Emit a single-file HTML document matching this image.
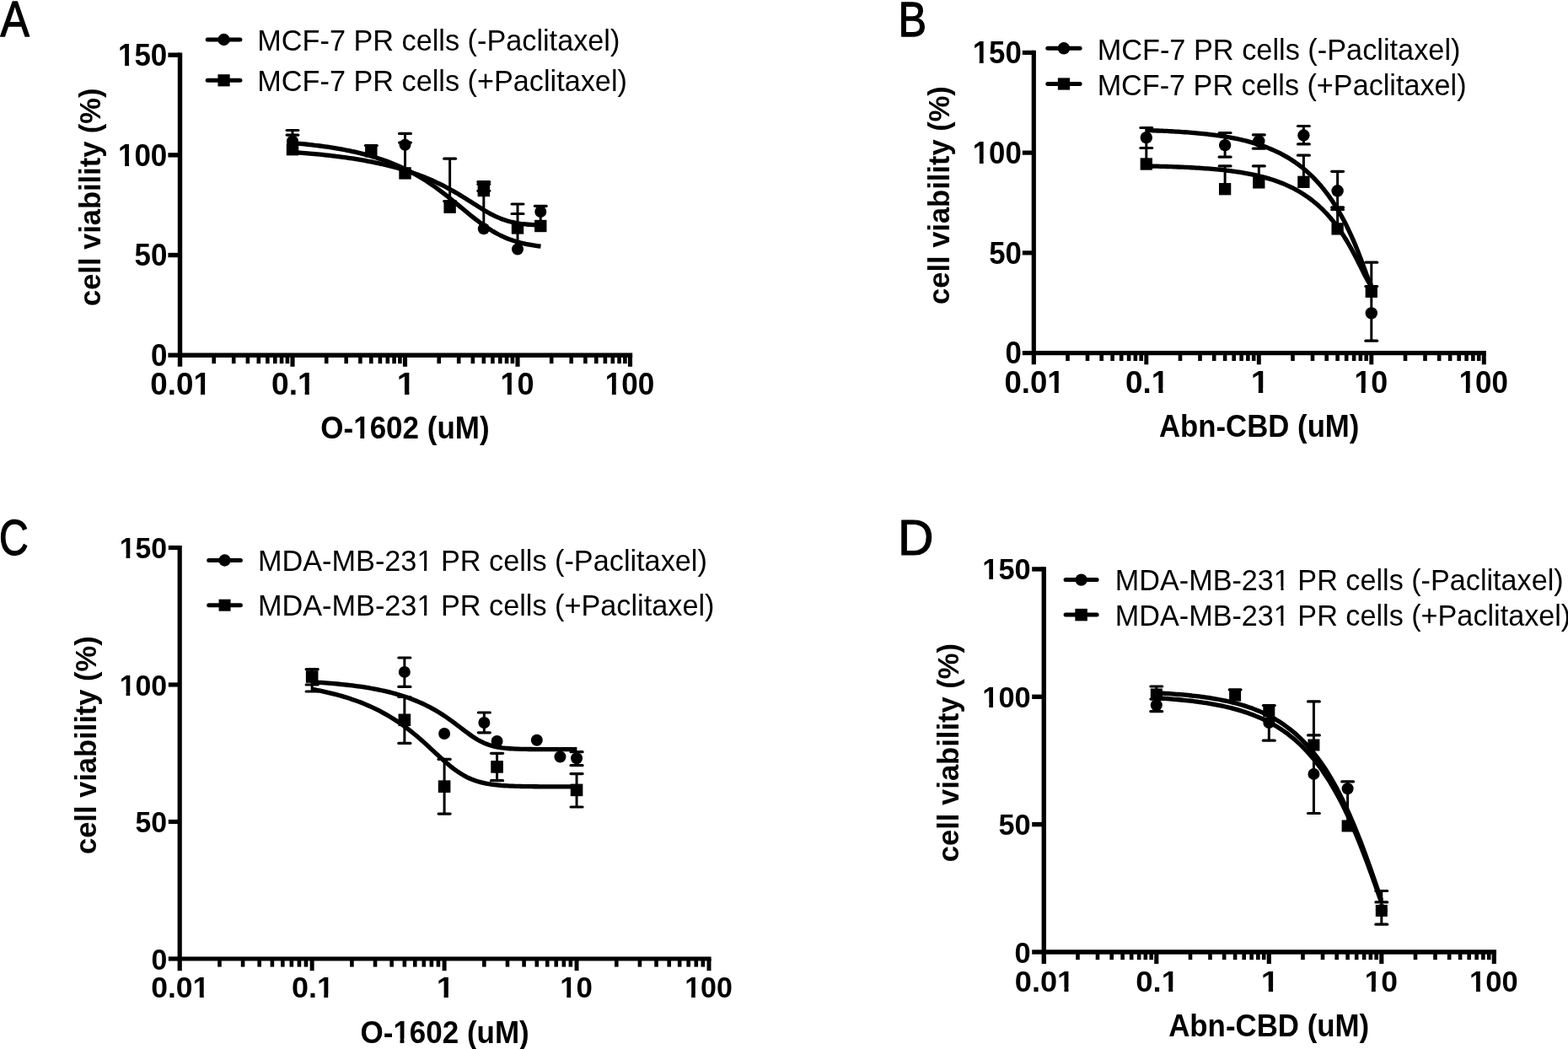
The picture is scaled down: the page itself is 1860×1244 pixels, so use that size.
<!DOCTYPE html>
<html><head><meta charset="utf-8"><title>Cell viability dose-response curves</title>
<style>
html,body{margin:0;padding:0;background:#fff;}
body{width:1860px;height:1244px;overflow:hidden;}
svg{display:block;}
text{font-family:"Liberation Sans",Arial,Helvetica,sans-serif;fill:#000;stroke:none;}
line,path{stroke:#000;}
circle,rect{stroke:none;}
</style></head><body>
<svg width="1860" height="1244" viewBox="0 0 1860 1244">
<rect width="1860" height="1244" style="fill:#fff"/>
<defs><clipPath id="c0"><path clip-rule="evenodd" d="M-2000,-2000H8000V2000H-2000ZM1.46,-4.91H8.46V5.46H1.46ZM13.49,-4.91H20.02V5.46H13.49Z"/></clipPath><clipPath id="c1"><path clip-rule="evenodd" d="M-2000,-2000H8000V2000H-2000ZM1.46,-4.91H8.46V5.46H1.46ZM13.49,-4.91H20.02V5.46H13.49Z"/></clipPath><clipPath id="c2"><path clip-rule="evenodd" d="M-2000,-2000H8000V2000H-2000ZM52.07,-4.91H59.07V5.46H52.07ZM64.10,-4.91H70.63V5.46H64.10Z"/></clipPath><clipPath id="c3"><path clip-rule="evenodd" d="M-2000,-2000H8000V2000H-2000ZM31.82,-4.91H38.83V5.46H31.82ZM43.85,-4.91H50.38V5.46H43.85Z"/></clipPath><clipPath id="c4"><path clip-rule="evenodd" d="M-2000,-2000H8000V2000H-2000ZM1.46,-4.91H8.46V5.46H1.46ZM13.49,-4.91H20.02V5.46H13.49Z"/></clipPath><clipPath id="c5"><path clip-rule="evenodd" d="M-2000,-2000H8000V2000H-2000ZM1.46,-4.91H8.46V5.46H1.46ZM13.49,-4.91H20.02V5.46H13.49Z"/></clipPath><clipPath id="c6"><path clip-rule="evenodd" d="M-2000,-2000H8000V2000H-2000ZM1.46,-4.91H8.46V5.46H1.46ZM13.49,-4.91H20.02V5.46H13.49Z"/></clipPath><clipPath id="c7"><path clip-rule="evenodd" d="M-2000,-2000H8000V2000H-2000ZM41.77,-4.90H48.76V5.44H41.77ZM53.77,-4.90H60.29V5.44H53.77Z"/></clipPath><clipPath id="c8"><path clip-rule="evenodd" d="M-2000,-2000H8000V2000H-2000ZM1.45,-4.89H8.42V5.43H1.45ZM13.41,-4.89H19.91V5.43H13.41Z"/></clipPath><clipPath id="c9"><path clip-rule="evenodd" d="M-2000,-2000H8000V2000H-2000ZM1.45,-4.89H8.42V5.43H1.45ZM13.41,-4.89H19.91V5.43H13.41Z"/></clipPath><clipPath id="c10"><path clip-rule="evenodd" d="M-2000,-2000H8000V2000H-2000ZM51.78,-4.89H58.74V5.43H51.78ZM63.74,-4.89H70.24V5.43H63.74Z"/></clipPath><clipPath id="c11"><path clip-rule="evenodd" d="M-2000,-2000H8000V2000H-2000ZM31.64,-4.89H38.61V5.43H31.64ZM43.60,-4.89H50.10V5.43H43.60Z"/></clipPath><clipPath id="c12"><path clip-rule="evenodd" d="M-2000,-2000H8000V2000H-2000ZM1.45,-4.89H8.42V5.43H1.45ZM13.41,-4.89H19.91V5.43H13.41Z"/></clipPath><clipPath id="c13"><path clip-rule="evenodd" d="M-2000,-2000H8000V2000H-2000ZM1.45,-4.89H8.42V5.43H1.45ZM13.41,-4.89H19.91V5.43H13.41Z"/></clipPath><clipPath id="c14"><path clip-rule="evenodd" d="M-2000,-2000H8000V2000H-2000ZM1.45,-4.89H8.42V5.43H1.45ZM13.41,-4.89H19.91V5.43H13.41Z"/></clipPath><clipPath id="c15"><path clip-rule="evenodd" d="M-2000,-2000H8000V2000H-2000ZM1.41,-4.75H8.18V5.28H1.41ZM13.04,-4.75H19.36V5.28H13.04Z"/></clipPath><clipPath id="c16"><path clip-rule="evenodd" d="M-2000,-2000H8000V2000H-2000ZM1.41,-4.75H8.18V5.28H1.41ZM13.04,-4.75H19.36V5.28H13.04Z"/></clipPath><clipPath id="c17"><path clip-rule="evenodd" d="M-2000,-2000H8000V2000H-2000ZM50.35,-4.75H57.12V5.28H50.35ZM61.98,-4.75H68.30V5.28H61.98Z"/></clipPath><clipPath id="c18"><path clip-rule="evenodd" d="M-2000,-2000H8000V2000H-2000ZM30.77,-4.75H37.54V5.28H30.77ZM42.40,-4.75H48.72V5.28H42.40Z"/></clipPath><clipPath id="c19"><path clip-rule="evenodd" d="M-2000,-2000H8000V2000H-2000ZM1.41,-4.75H8.18V5.28H1.41ZM13.04,-4.75H19.36V5.28H13.04Z"/></clipPath><clipPath id="c20"><path clip-rule="evenodd" d="M-2000,-2000H8000V2000H-2000ZM1.41,-4.75H8.18V5.28H1.41ZM13.04,-4.75H19.36V5.28H13.04Z"/></clipPath><clipPath id="c21"><path clip-rule="evenodd" d="M-2000,-2000H8000V2000H-2000ZM1.41,-4.75H8.18V5.28H1.41ZM13.04,-4.75H19.36V5.28H13.04Z"/></clipPath><clipPath id="c22"><path clip-rule="evenodd" d="M-2000,-2000H8000V2000H-2000ZM41.77,-4.90H48.76V5.44H41.77ZM53.77,-4.90H60.29V5.44H53.77Z"/></clipPath><clipPath id="c23"><path clip-rule="evenodd" d="M-2000,-2000H8000V2000H-2000ZM195.91,-3.71H202.99V5.29H195.91ZM206.13,-3.71H213.56V5.29H206.13Z"/></clipPath><clipPath id="c24"><path clip-rule="evenodd" d="M-2000,-2000H8000V2000H-2000ZM195.91,-3.71H202.99V5.29H195.91ZM206.13,-3.71H213.56V5.29H206.13Z"/></clipPath><clipPath id="c25"><path clip-rule="evenodd" d="M-2000,-2000H8000V2000H-2000ZM1.43,-4.83H8.32V5.37H1.43ZM13.26,-4.83H19.69V5.37H13.26Z"/></clipPath><clipPath id="c26"><path clip-rule="evenodd" d="M-2000,-2000H8000V2000H-2000ZM1.43,-4.83H8.32V5.37H1.43ZM13.26,-4.83H19.69V5.37H13.26Z"/></clipPath><clipPath id="c27"><path clip-rule="evenodd" d="M-2000,-2000H8000V2000H-2000ZM51.19,-4.83H58.09V5.37H51.19ZM63.03,-4.83H69.45V5.37H63.03Z"/></clipPath><clipPath id="c28"><path clip-rule="evenodd" d="M-2000,-2000H8000V2000H-2000ZM31.29,-4.83H38.18V5.37H31.29ZM43.12,-4.83H49.54V5.37H43.12Z"/></clipPath><clipPath id="c29"><path clip-rule="evenodd" d="M-2000,-2000H8000V2000H-2000ZM1.43,-4.83H8.32V5.37H1.43ZM13.26,-4.83H19.69V5.37H13.26Z"/></clipPath><clipPath id="c30"><path clip-rule="evenodd" d="M-2000,-2000H8000V2000H-2000ZM1.43,-4.83H8.32V5.37H1.43ZM13.26,-4.83H19.69V5.37H13.26Z"/></clipPath><clipPath id="c31"><path clip-rule="evenodd" d="M-2000,-2000H8000V2000H-2000ZM1.43,-4.83H8.32V5.37H1.43ZM13.26,-4.83H19.69V5.37H13.26Z"/></clipPath><clipPath id="c32"><path clip-rule="evenodd" d="M-2000,-2000H8000V2000H-2000ZM197.04,-3.73H204.16V5.33H197.04ZM207.32,-3.73H214.79V5.33H207.32Z"/></clipPath><clipPath id="c33"><path clip-rule="evenodd" d="M-2000,-2000H8000V2000H-2000ZM197.04,-3.73H204.16V5.33H197.04ZM207.32,-3.73H214.79V5.33H207.32Z"/></clipPath></defs>
<g fill="#000">
<g transform="translate(0.44,43.15) scale(0.8744,1)"><text font-size="58.9" font-weight="normal" style="stroke:#000;stroke-width:1.258px;stroke-linejoin:round">A</text></g>
<line x1="213.50" y1="62.50" x2="213.50" y2="434.80" stroke-width="5.4" stroke-linecap="butt"/>
<line x1="199.40" y1="421.20" x2="213.50" y2="421.20" stroke-width="5.4" stroke-linecap="butt"/>
<g transform="translate(178.90,434.10) scale(0.9600,1)"><text font-size="36.4" font-weight="bold">0</text></g>
<line x1="199.40" y1="302.53" x2="213.50" y2="302.53" stroke-width="5.4" stroke-linecap="butt"/>
<g transform="translate(159.46,315.43) scale(0.9600,1)"><text font-size="36.4" font-weight="bold">50</text></g>
<line x1="199.40" y1="183.87" x2="213.50" y2="183.87" stroke-width="5.4" stroke-linecap="butt"/>
<g transform="translate(140.02,196.77) scale(0.9600,1)"><text font-size="36.4" font-weight="bold" clip-path="url(#c0)">100</text></g>
<line x1="199.40" y1="65.20" x2="213.50" y2="65.20" stroke-width="5.4" stroke-linecap="butt"/>
<g transform="translate(140.02,78.10) scale(0.9600,1)"><text font-size="36.4" font-weight="bold" clip-path="url(#c1)">150</text></g>
<line x1="213.50" y1="421.20" x2="750.20" y2="421.20" stroke-width="5.4" stroke-linecap="butt"/>
<g transform="translate(178.36,468.00) scale(1.0100,1)"><text font-size="36.4" font-weight="bold" clip-path="url(#c2)">0.01</text></g>
<line x1="253.69" y1="421.20" x2="253.69" y2="431.20" stroke-width="4.6" stroke-linecap="butt"/>
<line x1="277.20" y1="421.20" x2="277.20" y2="431.20" stroke-width="4.6" stroke-linecap="butt"/>
<line x1="293.88" y1="421.20" x2="293.88" y2="431.20" stroke-width="4.6" stroke-linecap="butt"/>
<line x1="306.81" y1="421.20" x2="306.81" y2="431.20" stroke-width="4.6" stroke-linecap="butt"/>
<line x1="317.38" y1="421.20" x2="317.38" y2="431.20" stroke-width="4.6" stroke-linecap="butt"/>
<line x1="326.32" y1="421.20" x2="326.32" y2="431.20" stroke-width="4.6" stroke-linecap="butt"/>
<line x1="334.06" y1="421.20" x2="334.06" y2="431.20" stroke-width="4.6" stroke-linecap="butt"/>
<line x1="340.89" y1="421.20" x2="340.89" y2="431.20" stroke-width="4.6" stroke-linecap="butt"/>
<line x1="347.00" y1="421.20" x2="347.00" y2="434.80" stroke-width="5.13" stroke-linecap="butt"/>
<g transform="translate(322.06,468.00) scale(1.0200,1)"><text font-size="36.4" font-weight="bold" clip-path="url(#c3)">0.1</text></g>
<line x1="387.19" y1="421.20" x2="387.19" y2="431.20" stroke-width="4.6" stroke-linecap="butt"/>
<line x1="410.70" y1="421.20" x2="410.70" y2="431.20" stroke-width="4.6" stroke-linecap="butt"/>
<line x1="427.38" y1="421.20" x2="427.38" y2="431.20" stroke-width="4.6" stroke-linecap="butt"/>
<line x1="440.31" y1="421.20" x2="440.31" y2="431.20" stroke-width="4.6" stroke-linecap="butt"/>
<line x1="450.88" y1="421.20" x2="450.88" y2="431.20" stroke-width="4.6" stroke-linecap="butt"/>
<line x1="459.82" y1="421.20" x2="459.82" y2="431.20" stroke-width="4.6" stroke-linecap="butt"/>
<line x1="467.56" y1="421.20" x2="467.56" y2="431.20" stroke-width="4.6" stroke-linecap="butt"/>
<line x1="474.39" y1="421.20" x2="474.39" y2="431.20" stroke-width="4.6" stroke-linecap="butt"/>
<line x1="480.50" y1="421.20" x2="480.50" y2="434.80" stroke-width="5.13" stroke-linecap="butt"/>
<g transform="translate(470.86,468.00) scale(1.0800,1)"><text font-size="36.4" font-weight="bold" clip-path="url(#c4)">1</text></g>
<line x1="520.69" y1="421.20" x2="520.69" y2="431.20" stroke-width="4.6" stroke-linecap="butt"/>
<line x1="544.20" y1="421.20" x2="544.20" y2="431.20" stroke-width="4.6" stroke-linecap="butt"/>
<line x1="560.88" y1="421.20" x2="560.88" y2="431.20" stroke-width="4.6" stroke-linecap="butt"/>
<line x1="573.81" y1="421.20" x2="573.81" y2="431.20" stroke-width="4.6" stroke-linecap="butt"/>
<line x1="584.38" y1="421.20" x2="584.38" y2="431.20" stroke-width="4.6" stroke-linecap="butt"/>
<line x1="593.32" y1="421.20" x2="593.32" y2="431.20" stroke-width="4.6" stroke-linecap="butt"/>
<line x1="601.06" y1="421.20" x2="601.06" y2="431.20" stroke-width="4.6" stroke-linecap="butt"/>
<line x1="607.89" y1="421.20" x2="607.89" y2="431.20" stroke-width="4.6" stroke-linecap="butt"/>
<line x1="614.00" y1="421.20" x2="614.00" y2="434.80" stroke-width="5.13" stroke-linecap="butt"/>
<g transform="translate(593.46,468.00) scale(0.9900,1)"><text font-size="36.4" font-weight="bold" clip-path="url(#c5)">10</text></g>
<line x1="654.19" y1="421.20" x2="654.19" y2="431.20" stroke-width="4.6" stroke-linecap="butt"/>
<line x1="677.70" y1="421.20" x2="677.70" y2="431.20" stroke-width="4.6" stroke-linecap="butt"/>
<line x1="694.38" y1="421.20" x2="694.38" y2="431.20" stroke-width="4.6" stroke-linecap="butt"/>
<line x1="707.31" y1="421.20" x2="707.31" y2="431.20" stroke-width="4.6" stroke-linecap="butt"/>
<line x1="717.88" y1="421.20" x2="717.88" y2="431.20" stroke-width="4.6" stroke-linecap="butt"/>
<line x1="726.82" y1="421.20" x2="726.82" y2="431.20" stroke-width="4.6" stroke-linecap="butt"/>
<line x1="734.56" y1="421.20" x2="734.56" y2="431.20" stroke-width="4.6" stroke-linecap="butt"/>
<line x1="741.39" y1="421.20" x2="741.39" y2="431.20" stroke-width="4.6" stroke-linecap="butt"/>
<line x1="747.50" y1="421.20" x2="747.50" y2="434.80" stroke-width="5.13" stroke-linecap="butt"/>
<g transform="translate(717.74,468.00) scale(0.9640,1)"><text font-size="36.4" font-weight="bold" clip-path="url(#c6)">100</text></g>
<g transform="translate(380.35,520.10) scale(0.9641,1)"><text font-size="36.3" font-weight="bold" clip-path="url(#c7)">O-1602 (uM)</text></g>
<text transform="translate(119.40,362.97) rotate(-90) scale(0.9956,1)" font-size="34.6" font-weight="bold">cell viability (%)</text>
<line x1="246.20" y1="47.00" x2="284.90" y2="47.00" stroke-width="5" stroke-linecap="round"/>
<circle cx="265.55" cy="47.00" r="7.20"/>
<g transform="translate(305.34,59.80) scale(0.9541,1)"><text font-size="35.9" font-weight="normal">MCF-7 PR cells (-Paclitaxel)</text></g>
<line x1="246.20" y1="95.30" x2="284.90" y2="95.30" stroke-width="5" stroke-linecap="round"/>
<rect x="258.45" y="88.20" width="14.20" height="14.20"/>
<g transform="translate(305.34,107.60) scale(0.9539,1)"><text font-size="35.9" font-weight="normal">MCF-7 PR cells (+Paclitaxel)</text></g>
<path d="M346.50,169.58 L349.48,169.83 L352.46,170.09 L355.44,170.37 L358.42,170.65 L361.40,170.95 L364.38,171.26 L367.36,171.58 L370.34,171.92 L373.32,172.26 L376.30,172.63 L379.28,173.00 L382.26,173.40 L385.24,173.81 L388.22,174.23 L391.20,174.67 L394.18,175.13 L397.16,175.61 L400.14,176.11 L403.12,176.63 L406.10,177.17 L409.08,177.73 L412.06,178.31 L415.04,178.92 L418.02,179.55 L420.99,180.21 L423.97,180.89 L426.95,181.61 L429.93,182.35 L432.91,183.12 L435.89,183.92 L438.87,184.75 L441.85,185.62 L444.83,186.52 L447.81,187.45 L450.79,188.43 L453.77,189.44 L456.75,190.49 L459.73,191.59 L462.71,192.72 L465.69,193.90 L468.67,195.13 L471.65,196.40 L474.63,197.72 L477.61,199.09 L480.59,200.51 L483.57,201.99 L486.55,203.51 L489.53,205.10 L492.51,206.74 L495.49,208.43 L498.47,210.18 L501.45,212.00 L504.43,213.86 L507.41,215.79 L510.39,217.78 L513.37,219.82 L516.35,221.92 L519.33,224.08 L522.31,226.28 L525.29,228.54 L528.27,230.84 L531.25,233.19 L534.23,235.57 L537.21,237.98 L540.19,240.43 L543.17,242.89 L546.15,245.36 L549.13,247.83 L552.11,250.30 L555.09,252.75 L558.07,255.18 L561.05,257.57 L564.03,259.92 L567.01,262.22 L569.98,264.45 L572.96,266.61 L575.94,268.70 L578.92,270.69 L581.90,272.60 L584.88,274.41 L587.86,276.13 L590.84,277.74 L593.82,279.25 L596.80,280.67 L599.78,281.98 L602.76,283.20 L605.74,284.32 L608.72,285.35 L611.70,286.30 L614.68,287.17 L617.66,287.96 L620.64,288.68 L623.62,289.33 L626.60,289.92 L629.58,290.45 L632.56,290.93 L635.54,291.37 L638.52,291.76 L641.50,292.11" fill="none" stroke-width="5.3" stroke-linejoin="round" stroke-linecap="butt"/>
<path d="M346.50,180.48 L349.48,180.68 L352.46,180.90 L355.44,181.12 L358.42,181.35 L361.40,181.58 L364.38,181.83 L367.36,182.08 L370.34,182.34 L373.32,182.61 L376.30,182.89 L379.28,183.18 L382.26,183.48 L385.24,183.79 L388.22,184.11 L391.20,184.44 L394.18,184.79 L397.16,185.14 L400.14,185.51 L403.12,185.89 L406.10,186.28 L409.08,186.69 L412.06,187.11 L415.04,187.54 L418.02,187.99 L420.99,188.46 L423.97,188.94 L426.95,189.43 L429.93,189.95 L432.91,190.48 L435.89,191.03 L438.87,191.60 L441.85,192.19 L444.83,192.80 L447.81,193.43 L450.79,194.08 L453.77,194.75 L456.75,195.45 L459.73,196.17 L462.71,196.92 L465.69,197.69 L468.67,198.49 L471.65,199.31 L474.63,200.17 L477.61,201.05 L480.59,201.96 L483.57,202.91 L486.55,203.89 L489.53,204.89 L492.51,205.94 L495.49,207.02 L498.47,208.13 L501.45,209.29 L504.43,210.48 L507.41,211.71 L510.39,212.98 L513.37,214.29 L516.35,215.65 L519.33,217.05 L522.31,218.49 L525.29,219.98 L528.27,221.51 L531.25,223.09 L534.23,224.71 L537.21,226.38 L540.19,228.08 L543.17,229.83 L546.15,231.62 L549.13,233.44 L552.11,235.29 L555.09,237.16 L558.07,239.05 L561.05,240.95 L564.03,242.85 L567.01,244.74 L569.98,246.61 L572.96,248.44 L575.94,250.21 L578.92,251.93 L581.90,253.57 L584.88,255.12 L587.86,256.57 L590.84,257.92 L593.82,259.16 L596.80,260.28 L599.78,261.29 L602.76,262.19 L605.74,262.98 L608.72,263.68 L611.70,264.29 L614.68,264.81 L617.66,265.26 L620.64,265.64 L623.62,265.97 L626.60,266.25 L629.58,266.48 L632.56,266.68 L635.54,266.84 L638.52,266.98 L641.50,267.10" fill="none" stroke-width="5.3" stroke-linejoin="round" stroke-linecap="butt"/>
<line x1="347.00" y1="154.50" x2="347.00" y2="167.00" stroke-width="3.0" stroke-linecap="butt"/>
<line x1="340.10" y1="154.50" x2="353.90" y2="154.50" stroke-width="3.2" stroke-linecap="round"/>
<line x1="347.00" y1="160.10" x2="347.00" y2="177.00" stroke-width="3.0" stroke-linecap="butt"/>
<line x1="340.10" y1="160.10" x2="353.90" y2="160.10" stroke-width="3.2" stroke-linecap="round"/>
<line x1="440.31" y1="172.60" x2="440.31" y2="179.30" stroke-width="3.0" stroke-linecap="butt"/>
<line x1="433.41" y1="172.60" x2="447.21" y2="172.60" stroke-width="3.2" stroke-linecap="round"/>
<line x1="480.50" y1="158.40" x2="480.50" y2="171.80" stroke-width="3.0" stroke-linecap="butt"/>
<line x1="473.60" y1="158.40" x2="487.40" y2="158.40" stroke-width="3.2" stroke-linecap="round"/>
<line x1="480.50" y1="169.10" x2="480.50" y2="205.40" stroke-width="3.0" stroke-linecap="butt"/>
<line x1="473.60" y1="169.10" x2="487.40" y2="169.10" stroke-width="3.2" stroke-linecap="round"/>
<line x1="533.62" y1="188.20" x2="533.62" y2="245.70" stroke-width="3.0" stroke-linecap="butt"/>
<line x1="526.72" y1="188.20" x2="540.52" y2="188.20" stroke-width="3.2" stroke-linecap="round"/>
<line x1="533.62" y1="238.60" x2="533.62" y2="245.00" stroke-width="3.0" stroke-linecap="butt"/>
<line x1="526.72" y1="238.60" x2="540.52" y2="238.60" stroke-width="3.2" stroke-linecap="round"/>
<line x1="573.81" y1="215.60" x2="573.81" y2="271.30" stroke-width="3.0" stroke-linecap="butt"/>
<line x1="566.91" y1="215.60" x2="580.71" y2="215.60" stroke-width="3.2" stroke-linecap="round"/>
<line x1="566.91" y1="218.40" x2="580.71" y2="218.40" stroke-width="3.2" stroke-linecap="round"/>
<line x1="566.91" y1="226.30" x2="580.71" y2="226.30" stroke-width="3.2" stroke-linecap="round"/>
<line x1="614.00" y1="242.00" x2="614.00" y2="295.50" stroke-width="3.0" stroke-linecap="butt"/>
<line x1="607.10" y1="242.00" x2="620.90" y2="242.00" stroke-width="3.2" stroke-linecap="round"/>
<line x1="607.10" y1="253.50" x2="620.90" y2="253.50" stroke-width="3.2" stroke-linecap="round"/>
<line x1="641.25" y1="244.30" x2="641.25" y2="268.00" stroke-width="3.0" stroke-linecap="butt"/>
<line x1="634.35" y1="244.30" x2="648.15" y2="244.30" stroke-width="3.2" stroke-linecap="round"/>
<circle cx="347.00" cy="167.50" r="7.00"/>
<circle cx="480.50" cy="171.80" r="7.00"/>
<circle cx="573.81" cy="271.30" r="7.00"/>
<circle cx="614.00" cy="295.50" r="7.00"/>
<circle cx="641.25" cy="251.00" r="7.00"/>
<rect x="339.80" y="170.00" width="14.40" height="14.40"/>
<rect x="433.11" y="172.10" width="14.40" height="14.40"/>
<rect x="473.30" y="198.20" width="14.40" height="14.40"/>
<rect x="526.42" y="238.50" width="14.40" height="14.40"/>
<rect x="566.61" y="218.80" width="14.40" height="14.40"/>
<rect x="606.80" y="263.20" width="14.40" height="14.40"/>
<rect x="634.05" y="260.80" width="14.40" height="14.40"/>
<g transform="translate(1065.53,43.45) scale(0.8680,1)"><text font-size="58.0" font-weight="normal" style="stroke:#000;stroke-width:1.267px;stroke-linejoin:round">B</text></g>
<line x1="1226.30" y1="59.80" x2="1226.30" y2="432.30" stroke-width="5.2" stroke-linecap="butt"/>
<line x1="1212.80" y1="418.60" x2="1226.30" y2="418.60" stroke-width="5.2" stroke-linecap="butt"/>
<g transform="translate(1192.52,431.40) scale(0.9600,1)"><text font-size="36.2" font-weight="bold">0</text></g>
<line x1="1212.80" y1="299.87" x2="1226.30" y2="299.87" stroke-width="5.2" stroke-linecap="butt"/>
<g transform="translate(1173.20,312.67) scale(0.9600,1)"><text font-size="36.2" font-weight="bold">50</text></g>
<line x1="1212.80" y1="181.13" x2="1226.30" y2="181.13" stroke-width="5.2" stroke-linecap="butt"/>
<g transform="translate(1153.76,193.93) scale(0.9600,1)"><text font-size="36.2" font-weight="bold" clip-path="url(#c8)">100</text></g>
<line x1="1212.80" y1="62.40" x2="1226.30" y2="62.40" stroke-width="5.2" stroke-linecap="butt"/>
<g transform="translate(1153.76,75.20) scale(0.9600,1)"><text font-size="36.2" font-weight="bold" clip-path="url(#c9)">150</text></g>
<line x1="1226.30" y1="418.60" x2="1762.90" y2="418.60" stroke-width="5.2" stroke-linecap="butt"/>
<g transform="translate(1191.41,465.50) scale(1.0100,1)"><text font-size="36.2" font-weight="bold" clip-path="url(#c10)">0.01</text></g>
<line x1="1266.49" y1="418.60" x2="1266.49" y2="428.00" stroke-width="4.6" stroke-linecap="butt"/>
<line x1="1290.00" y1="418.60" x2="1290.00" y2="428.00" stroke-width="4.6" stroke-linecap="butt"/>
<line x1="1306.68" y1="418.60" x2="1306.68" y2="428.00" stroke-width="4.6" stroke-linecap="butt"/>
<line x1="1319.61" y1="418.60" x2="1319.61" y2="428.00" stroke-width="4.6" stroke-linecap="butt"/>
<line x1="1330.18" y1="418.60" x2="1330.18" y2="428.00" stroke-width="4.6" stroke-linecap="butt"/>
<line x1="1339.12" y1="418.60" x2="1339.12" y2="428.00" stroke-width="4.6" stroke-linecap="butt"/>
<line x1="1346.86" y1="418.60" x2="1346.86" y2="428.00" stroke-width="4.6" stroke-linecap="butt"/>
<line x1="1353.69" y1="418.60" x2="1353.69" y2="428.00" stroke-width="4.6" stroke-linecap="butt"/>
<line x1="1359.80" y1="418.60" x2="1359.80" y2="432.30" stroke-width="4.9399999999999995" stroke-linecap="butt"/>
<g transform="translate(1335.05,465.50) scale(1.0200,1)"><text font-size="36.2" font-weight="bold" clip-path="url(#c11)">0.1</text></g>
<line x1="1399.99" y1="418.60" x2="1399.99" y2="428.00" stroke-width="4.6" stroke-linecap="butt"/>
<line x1="1423.50" y1="418.60" x2="1423.50" y2="428.00" stroke-width="4.6" stroke-linecap="butt"/>
<line x1="1440.18" y1="418.60" x2="1440.18" y2="428.00" stroke-width="4.6" stroke-linecap="butt"/>
<line x1="1453.11" y1="418.60" x2="1453.11" y2="428.00" stroke-width="4.6" stroke-linecap="butt"/>
<line x1="1463.68" y1="418.60" x2="1463.68" y2="428.00" stroke-width="4.6" stroke-linecap="butt"/>
<line x1="1472.62" y1="418.60" x2="1472.62" y2="428.00" stroke-width="4.6" stroke-linecap="butt"/>
<line x1="1480.36" y1="418.60" x2="1480.36" y2="428.00" stroke-width="4.6" stroke-linecap="butt"/>
<line x1="1487.19" y1="418.60" x2="1487.19" y2="428.00" stroke-width="4.6" stroke-linecap="butt"/>
<line x1="1493.30" y1="418.60" x2="1493.30" y2="432.30" stroke-width="4.9399999999999995" stroke-linecap="butt"/>
<g transform="translate(1483.73,465.50) scale(1.0800,1)"><text font-size="36.2" font-weight="bold" clip-path="url(#c12)">1</text></g>
<line x1="1533.49" y1="418.60" x2="1533.49" y2="428.00" stroke-width="4.6" stroke-linecap="butt"/>
<line x1="1557.00" y1="418.60" x2="1557.00" y2="428.00" stroke-width="4.6" stroke-linecap="butt"/>
<line x1="1573.68" y1="418.60" x2="1573.68" y2="428.00" stroke-width="4.6" stroke-linecap="butt"/>
<line x1="1586.61" y1="418.60" x2="1586.61" y2="428.00" stroke-width="4.6" stroke-linecap="butt"/>
<line x1="1597.18" y1="418.60" x2="1597.18" y2="428.00" stroke-width="4.6" stroke-linecap="butt"/>
<line x1="1606.12" y1="418.60" x2="1606.12" y2="428.00" stroke-width="4.6" stroke-linecap="butt"/>
<line x1="1613.86" y1="418.60" x2="1613.86" y2="428.00" stroke-width="4.6" stroke-linecap="butt"/>
<line x1="1620.69" y1="418.60" x2="1620.69" y2="428.00" stroke-width="4.6" stroke-linecap="butt"/>
<line x1="1626.80" y1="418.60" x2="1626.80" y2="432.30" stroke-width="4.9399999999999995" stroke-linecap="butt"/>
<g transform="translate(1606.38,465.50) scale(0.9900,1)"><text font-size="36.2" font-weight="bold" clip-path="url(#c13)">10</text></g>
<line x1="1666.99" y1="418.60" x2="1666.99" y2="428.00" stroke-width="4.6" stroke-linecap="butt"/>
<line x1="1690.50" y1="418.60" x2="1690.50" y2="428.00" stroke-width="4.6" stroke-linecap="butt"/>
<line x1="1707.18" y1="418.60" x2="1707.18" y2="428.00" stroke-width="4.6" stroke-linecap="butt"/>
<line x1="1720.11" y1="418.60" x2="1720.11" y2="428.00" stroke-width="4.6" stroke-linecap="butt"/>
<line x1="1730.68" y1="418.60" x2="1730.68" y2="428.00" stroke-width="4.6" stroke-linecap="butt"/>
<line x1="1739.62" y1="418.60" x2="1739.62" y2="428.00" stroke-width="4.6" stroke-linecap="butt"/>
<line x1="1747.36" y1="418.60" x2="1747.36" y2="428.00" stroke-width="4.6" stroke-linecap="butt"/>
<line x1="1754.19" y1="418.60" x2="1754.19" y2="428.00" stroke-width="4.6" stroke-linecap="butt"/>
<line x1="1760.30" y1="418.60" x2="1760.30" y2="432.30" stroke-width="4.9399999999999995" stroke-linecap="butt"/>
<g transform="translate(1730.66,465.50) scale(0.9640,1)"><text font-size="36.2" font-weight="bold" clip-path="url(#c14)">100</text></g>
<g transform="translate(1374.96,517.60) scale(0.9554,1)"><text font-size="36.4" font-weight="bold">Abn-CBD (uM)</text></g>
<text transform="translate(1126.00,360.96) rotate(-90) scale(0.9918,1)" font-size="34.8" font-weight="bold">cell viability (%)</text>
<line x1="1242.80" y1="57.30" x2="1281.10" y2="57.30" stroke-width="5" stroke-linecap="round"/>
<circle cx="1261.95" cy="57.30" r="7.20"/>
<g transform="translate(1301.63,71.10) scale(0.9559,1)"><text font-size="35.9" font-weight="normal">MCF-7 PR cells (-Paclitaxel)</text></g>
<line x1="1242.80" y1="99.50" x2="1281.10" y2="99.50" stroke-width="5" stroke-linecap="round"/>
<rect x="1254.85" y="92.40" width="14.20" height="14.20"/>
<g transform="translate(1301.64,113.30) scale(0.9528,1)"><text font-size="35.9" font-weight="normal">MCF-7 PR cells (+Paclitaxel)</text></g>
<path d="M1359.90,154.50 L1362.59,154.59 L1365.29,154.68 L1367.98,154.78 L1370.67,154.88 L1373.36,154.99 L1376.06,155.10 L1378.75,155.22 L1381.44,155.34 L1384.14,155.47 L1386.83,155.60 L1389.52,155.74 L1392.22,155.89 L1394.91,156.05 L1397.60,156.21 L1400.29,156.38 L1402.99,156.56 L1405.68,156.75 L1408.37,156.94 L1411.07,157.15 L1413.76,157.37 L1416.45,157.59 L1419.14,157.83 L1421.84,158.08 L1424.53,158.34 L1427.22,158.61 L1429.92,158.90 L1432.61,159.20 L1435.30,159.51 L1437.99,159.84 L1440.69,160.19 L1443.38,160.55 L1446.07,160.93 L1448.77,161.32 L1451.46,161.74 L1454.15,162.18 L1456.85,162.63 L1459.54,163.11 L1462.23,163.61 L1464.92,164.14 L1467.62,164.69 L1470.31,165.27 L1473.00,165.88 L1475.70,166.51 L1478.39,167.17 L1481.08,167.87 L1483.77,168.60 L1486.47,169.37 L1489.16,170.17 L1491.85,171.01 L1494.55,171.89 L1497.24,172.81 L1499.93,173.78 L1502.63,174.80 L1505.32,175.86 L1508.01,176.97 L1510.70,178.14 L1513.40,179.36 L1516.09,180.64 L1518.78,181.99 L1521.48,183.39 L1524.17,184.87 L1526.86,186.41 L1529.55,188.03 L1532.25,189.73 L1534.94,191.51 L1537.63,193.38 L1540.33,195.33 L1543.02,197.38 L1545.71,199.52 L1548.41,201.77 L1551.10,204.13 L1553.79,206.60 L1556.48,209.19 L1559.18,211.90 L1561.87,214.74 L1564.56,217.72 L1567.26,220.84 L1569.95,224.12 L1572.64,227.55 L1575.33,231.14 L1578.03,234.90 L1580.72,238.85 L1583.41,242.99 L1586.11,247.32 L1588.80,251.86 L1591.49,256.62 L1594.18,261.61 L1596.88,266.84 L1599.57,272.32 L1602.26,278.06 L1604.96,284.08 L1607.65,290.38 L1610.34,296.97 L1613.04,303.86 L1615.73,311.03 L1618.42,318.39 L1621.11,325.74 L1623.81,332.62 L1626.50,338.29" fill="none" stroke-width="5.3" stroke-linejoin="round" stroke-linecap="butt"/>
<path d="M1359.90,196.90 L1362.59,196.96 L1365.29,197.02 L1367.98,197.08 L1370.67,197.14 L1373.36,197.21 L1376.06,197.28 L1378.75,197.35 L1381.44,197.43 L1384.14,197.51 L1386.83,197.60 L1389.52,197.69 L1392.22,197.78 L1394.91,197.88 L1397.60,197.99 L1400.29,198.10 L1402.99,198.22 L1405.68,198.34 L1408.37,198.47 L1411.07,198.60 L1413.76,198.74 L1416.45,198.89 L1419.14,199.05 L1421.84,199.22 L1424.53,199.39 L1427.22,199.57 L1429.92,199.77 L1432.61,199.97 L1435.30,200.18 L1437.99,200.40 L1440.69,200.64 L1443.38,200.89 L1446.07,201.15 L1448.77,201.42 L1451.46,201.71 L1454.15,202.01 L1456.85,202.33 L1459.54,202.66 L1462.23,203.01 L1464.92,203.38 L1467.62,203.77 L1470.31,204.18 L1473.00,204.61 L1475.70,205.07 L1478.39,205.54 L1481.08,206.04 L1483.77,206.57 L1486.47,207.12 L1489.16,207.70 L1491.85,208.31 L1494.55,208.96 L1497.24,209.63 L1499.93,210.35 L1502.63,211.09 L1505.32,211.88 L1508.01,212.71 L1510.70,213.58 L1513.40,214.49 L1516.09,215.46 L1518.78,216.47 L1521.48,217.53 L1524.17,218.65 L1526.86,219.83 L1529.55,221.06 L1532.25,222.37 L1534.94,223.73 L1537.63,225.17 L1540.33,226.69 L1543.02,228.28 L1545.71,229.95 L1548.41,231.71 L1551.10,233.56 L1553.79,235.51 L1556.48,237.55 L1559.18,239.71 L1561.87,241.97 L1564.56,244.35 L1567.26,246.85 L1569.95,249.48 L1572.64,252.25 L1575.33,255.16 L1578.03,258.22 L1580.72,261.44 L1583.41,264.82 L1586.11,268.37 L1588.80,272.11 L1591.49,276.03 L1594.18,280.15 L1596.88,284.48 L1599.57,289.01 L1602.26,293.74 L1604.96,298.68 L1607.65,303.81 L1610.34,309.09 L1613.04,314.48 L1615.73,319.90 L1618.42,325.24 L1621.11,330.35 L1623.81,335.06 L1626.50,339.22" fill="none" stroke-width="5.3" stroke-linejoin="round" stroke-linecap="butt"/>
<line x1="1359.80" y1="151.50" x2="1359.80" y2="175.50" stroke-width="3.0" stroke-linecap="butt"/>
<line x1="1352.90" y1="151.50" x2="1366.70" y2="151.50" stroke-width="3.2" stroke-linecap="round"/>
<line x1="1352.90" y1="175.50" x2="1366.70" y2="175.50" stroke-width="3.2" stroke-linecap="round"/>
<line x1="1359.80" y1="175.50" x2="1359.80" y2="194.50" stroke-width="3.0" stroke-linecap="butt"/>
<line x1="1453.11" y1="157.50" x2="1453.11" y2="186.20" stroke-width="3.0" stroke-linecap="butt"/>
<line x1="1446.21" y1="157.50" x2="1460.01" y2="157.50" stroke-width="3.2" stroke-linecap="round"/>
<line x1="1446.21" y1="186.20" x2="1460.01" y2="186.20" stroke-width="3.2" stroke-linecap="round"/>
<line x1="1453.11" y1="196.90" x2="1453.11" y2="224.20" stroke-width="3.0" stroke-linecap="butt"/>
<line x1="1446.21" y1="196.90" x2="1460.01" y2="196.90" stroke-width="3.2" stroke-linecap="round"/>
<line x1="1493.30" y1="159.90" x2="1493.30" y2="176.20" stroke-width="3.0" stroke-linecap="butt"/>
<line x1="1486.40" y1="159.90" x2="1500.20" y2="159.90" stroke-width="3.2" stroke-linecap="round"/>
<line x1="1486.40" y1="176.20" x2="1500.20" y2="176.20" stroke-width="3.2" stroke-linecap="round"/>
<line x1="1493.30" y1="196.90" x2="1493.30" y2="216.40" stroke-width="3.0" stroke-linecap="butt"/>
<line x1="1486.40" y1="196.90" x2="1500.20" y2="196.90" stroke-width="3.2" stroke-linecap="round"/>
<line x1="1546.42" y1="149.50" x2="1546.42" y2="170.90" stroke-width="3.0" stroke-linecap="butt"/>
<line x1="1539.52" y1="149.50" x2="1553.32" y2="149.50" stroke-width="3.2" stroke-linecap="round"/>
<line x1="1539.52" y1="170.90" x2="1553.32" y2="170.90" stroke-width="3.2" stroke-linecap="round"/>
<line x1="1546.42" y1="184.20" x2="1546.42" y2="215.80" stroke-width="3.0" stroke-linecap="butt"/>
<line x1="1539.52" y1="184.20" x2="1553.32" y2="184.20" stroke-width="3.2" stroke-linecap="round"/>
<line x1="1586.61" y1="203.30" x2="1586.61" y2="271.40" stroke-width="3.0" stroke-linecap="butt"/>
<line x1="1579.71" y1="203.30" x2="1593.51" y2="203.30" stroke-width="3.2" stroke-linecap="round"/>
<line x1="1579.71" y1="245.90" x2="1593.51" y2="245.90" stroke-width="3.2" stroke-linecap="round"/>
<line x1="1579.71" y1="248.50" x2="1593.51" y2="248.50" stroke-width="3.2" stroke-linecap="round"/>
<line x1="1626.80" y1="311.20" x2="1626.80" y2="404.20" stroke-width="3.0" stroke-linecap="butt"/>
<line x1="1619.90" y1="311.20" x2="1633.70" y2="311.20" stroke-width="3.2" stroke-linecap="round"/>
<line x1="1619.90" y1="339.60" x2="1633.70" y2="339.60" stroke-width="3.2" stroke-linecap="round"/>
<line x1="1619.90" y1="404.20" x2="1633.70" y2="404.20" stroke-width="3.2" stroke-linecap="round"/>
<circle cx="1359.80" cy="163.10" r="7.20"/>
<circle cx="1453.11" cy="172.10" r="7.20"/>
<circle cx="1493.30" cy="167.30" r="7.20"/>
<circle cx="1546.42" cy="160.50" r="7.20"/>
<circle cx="1586.61" cy="226.30" r="7.20"/>
<circle cx="1626.80" cy="371.40" r="7.20"/>
<rect x="1352.65" y="187.35" width="14.30" height="14.30"/>
<rect x="1445.96" y="217.05" width="14.30" height="14.30"/>
<rect x="1486.15" y="209.25" width="14.30" height="14.30"/>
<rect x="1539.27" y="208.65" width="14.30" height="14.30"/>
<rect x="1579.46" y="264.25" width="14.30" height="14.30"/>
<rect x="1619.65" y="338.65" width="14.30" height="14.30"/>
<g transform="translate(-1.05,658.35) scale(0.8000,1)"><text font-size="60.0" font-weight="normal" style="stroke:#000;stroke-width:1.375px;stroke-linejoin:round">C</text></g>
<line x1="213.20" y1="646.90" x2="213.20" y2="1151.20" stroke-width="5.2" stroke-linecap="butt"/>
<line x1="199.80" y1="1137.00" x2="213.20" y2="1137.00" stroke-width="5.2" stroke-linecap="butt"/>
<g transform="translate(179.40,1149.85) scale(0.9600,1)"><text font-size="35.2" font-weight="bold">0</text></g>
<line x1="199.80" y1="974.50" x2="213.20" y2="974.50" stroke-width="5.2" stroke-linecap="butt"/>
<g transform="translate(160.56,987.35) scale(0.9600,1)"><text font-size="35.2" font-weight="bold">50</text></g>
<line x1="199.80" y1="812.00" x2="213.20" y2="812.00" stroke-width="5.2" stroke-linecap="butt"/>
<g transform="translate(141.72,824.85) scale(0.9600,1)"><text font-size="35.2" font-weight="bold" clip-path="url(#c15)">100</text></g>
<line x1="199.80" y1="649.50" x2="213.20" y2="649.50" stroke-width="5.2" stroke-linecap="butt"/>
<g transform="translate(141.72,662.35) scale(0.9600,1)"><text font-size="35.2" font-weight="bold" clip-path="url(#c16)">150</text></g>
<line x1="213.20" y1="1137.00" x2="843.60" y2="1137.00" stroke-width="5.2" stroke-linecap="butt"/>
<g transform="translate(179.13,1183.40) scale(1.0100,1)"><text font-size="35.2" font-weight="bold" clip-path="url(#c17)">0.01</text></g>
<line x1="260.45" y1="1137.00" x2="260.45" y2="1146.60" stroke-width="4.6" stroke-linecap="butt"/>
<line x1="288.08" y1="1137.00" x2="288.08" y2="1146.60" stroke-width="4.6" stroke-linecap="butt"/>
<line x1="307.69" y1="1137.00" x2="307.69" y2="1146.60" stroke-width="4.6" stroke-linecap="butt"/>
<line x1="322.90" y1="1137.00" x2="322.90" y2="1146.60" stroke-width="4.6" stroke-linecap="butt"/>
<line x1="335.33" y1="1137.00" x2="335.33" y2="1146.60" stroke-width="4.6" stroke-linecap="butt"/>
<line x1="345.84" y1="1137.00" x2="345.84" y2="1146.60" stroke-width="4.6" stroke-linecap="butt"/>
<line x1="354.94" y1="1137.00" x2="354.94" y2="1146.60" stroke-width="4.6" stroke-linecap="butt"/>
<line x1="362.97" y1="1137.00" x2="362.97" y2="1146.60" stroke-width="4.6" stroke-linecap="butt"/>
<line x1="370.15" y1="1137.00" x2="370.15" y2="1151.20" stroke-width="4.9399999999999995" stroke-linecap="butt"/>
<g transform="translate(345.97,1183.40) scale(1.0200,1)"><text font-size="35.2" font-weight="bold" clip-path="url(#c18)">0.1</text></g>
<line x1="417.40" y1="1137.00" x2="417.40" y2="1146.60" stroke-width="4.6" stroke-linecap="butt"/>
<line x1="445.03" y1="1137.00" x2="445.03" y2="1146.60" stroke-width="4.6" stroke-linecap="butt"/>
<line x1="464.64" y1="1137.00" x2="464.64" y2="1146.60" stroke-width="4.6" stroke-linecap="butt"/>
<line x1="479.85" y1="1137.00" x2="479.85" y2="1146.60" stroke-width="4.6" stroke-linecap="butt"/>
<line x1="492.28" y1="1137.00" x2="492.28" y2="1146.60" stroke-width="4.6" stroke-linecap="butt"/>
<line x1="502.79" y1="1137.00" x2="502.79" y2="1146.60" stroke-width="4.6" stroke-linecap="butt"/>
<line x1="511.89" y1="1137.00" x2="511.89" y2="1146.60" stroke-width="4.6" stroke-linecap="butt"/>
<line x1="519.92" y1="1137.00" x2="519.92" y2="1146.60" stroke-width="4.6" stroke-linecap="butt"/>
<line x1="527.10" y1="1137.00" x2="527.10" y2="1151.20" stroke-width="4.9399999999999995" stroke-linecap="butt"/>
<g transform="translate(517.73,1183.40) scale(1.0800,1)"><text font-size="35.2" font-weight="bold" clip-path="url(#c19)">1</text></g>
<line x1="574.35" y1="1137.00" x2="574.35" y2="1146.60" stroke-width="4.6" stroke-linecap="butt"/>
<line x1="601.98" y1="1137.00" x2="601.98" y2="1146.60" stroke-width="4.6" stroke-linecap="butt"/>
<line x1="621.59" y1="1137.00" x2="621.59" y2="1146.60" stroke-width="4.6" stroke-linecap="butt"/>
<line x1="636.80" y1="1137.00" x2="636.80" y2="1146.60" stroke-width="4.6" stroke-linecap="butt"/>
<line x1="649.23" y1="1137.00" x2="649.23" y2="1146.60" stroke-width="4.6" stroke-linecap="butt"/>
<line x1="659.74" y1="1137.00" x2="659.74" y2="1146.60" stroke-width="4.6" stroke-linecap="butt"/>
<line x1="668.84" y1="1137.00" x2="668.84" y2="1146.60" stroke-width="4.6" stroke-linecap="butt"/>
<line x1="676.87" y1="1137.00" x2="676.87" y2="1146.60" stroke-width="4.6" stroke-linecap="butt"/>
<line x1="684.05" y1="1137.00" x2="684.05" y2="1151.20" stroke-width="4.9399999999999995" stroke-linecap="butt"/>
<g transform="translate(664.19,1183.40) scale(0.9900,1)"><text font-size="35.2" font-weight="bold" clip-path="url(#c20)">10</text></g>
<line x1="731.30" y1="1137.00" x2="731.30" y2="1146.60" stroke-width="4.6" stroke-linecap="butt"/>
<line x1="758.93" y1="1137.00" x2="758.93" y2="1146.60" stroke-width="4.6" stroke-linecap="butt"/>
<line x1="778.54" y1="1137.00" x2="778.54" y2="1146.60" stroke-width="4.6" stroke-linecap="butt"/>
<line x1="793.75" y1="1137.00" x2="793.75" y2="1146.60" stroke-width="4.6" stroke-linecap="butt"/>
<line x1="806.18" y1="1137.00" x2="806.18" y2="1146.60" stroke-width="4.6" stroke-linecap="butt"/>
<line x1="816.69" y1="1137.00" x2="816.69" y2="1146.60" stroke-width="4.6" stroke-linecap="butt"/>
<line x1="825.79" y1="1137.00" x2="825.79" y2="1146.60" stroke-width="4.6" stroke-linecap="butt"/>
<line x1="833.82" y1="1137.00" x2="833.82" y2="1146.60" stroke-width="4.6" stroke-linecap="butt"/>
<line x1="841.00" y1="1137.00" x2="841.00" y2="1151.20" stroke-width="4.9399999999999995" stroke-linecap="butt"/>
<g transform="translate(812.20,1183.40) scale(0.9640,1)"><text font-size="35.2" font-weight="bold" clip-path="url(#c21)">100</text></g>
<g transform="translate(427.55,1236.60) scale(0.9641,1)"><text font-size="36.3" font-weight="bold" clip-path="url(#c22)">O-1602 (uM)</text></g>
<text transform="translate(113.60,1012.98) rotate(-90) scale(1.0025,1)" font-size="34.4" font-weight="bold">cell viability (%)</text>
<line x1="247.70" y1="664.50" x2="285.40" y2="664.50" stroke-width="5" stroke-linecap="round"/>
<circle cx="266.55" cy="664.50" r="7.20"/>
<g transform="translate(306.01,677.10) scale(0.9708,1)"><text font-size="35.3" font-weight="normal" clip-path="url(#c23)">MDA-MB-231 PR cells (-Paclitaxel)</text></g>
<line x1="247.70" y1="717.70" x2="285.40" y2="717.70" stroke-width="5" stroke-linecap="round"/>
<rect x="259.55" y="710.70" width="14.00" height="14.00"/>
<g transform="translate(306.01,730.20) scale(0.9708,1)"><text font-size="35.3" font-weight="normal" clip-path="url(#c24)">MDA-MB-231 PR cells (+Paclitaxel)</text></g>
<path d="M370.20,808.89 L373.37,809.08 L376.55,809.28 L379.72,809.48 L382.89,809.70 L386.07,809.93 L389.24,810.17 L392.42,810.42 L395.59,810.69 L398.76,810.97 L401.94,811.26 L405.11,811.57 L408.28,811.90 L411.46,812.24 L414.63,812.60 L417.81,812.98 L420.98,813.38 L424.15,813.80 L427.33,814.24 L430.50,814.71 L433.67,815.20 L436.85,815.71 L440.02,816.26 L443.20,816.83 L446.37,817.42 L449.54,818.06 L452.72,818.72 L455.89,819.42 L459.06,820.15 L462.24,820.92 L465.41,821.74 L468.59,822.59 L471.76,823.49 L474.93,824.44 L478.11,825.43 L481.28,826.48 L484.45,827.58 L487.63,828.73 L490.80,829.95 L493.98,831.23 L497.15,832.57 L500.32,833.99 L503.50,835.47 L506.67,837.03 L509.84,838.66 L513.02,840.37 L516.19,842.16 L519.37,844.04 L522.54,845.99 L525.71,848.03 L528.89,850.15 L532.06,852.35 L535.23,854.62 L538.41,856.95 L541.58,859.33 L544.76,861.74 L547.93,864.17 L551.10,866.58 L554.28,868.96 L557.45,871.26 L560.62,873.46 L563.80,875.53 L566.97,877.45 L570.15,879.19 L573.32,880.74 L576.49,882.10 L579.67,883.27 L582.84,884.27 L586.01,885.11 L589.19,885.80 L592.36,886.37 L595.54,886.83 L598.71,887.21 L601.88,887.51 L605.06,887.75 L608.23,887.94 L611.40,888.09 L614.58,888.21 L617.75,888.30 L620.93,888.38 L624.10,888.44 L627.27,888.48 L630.45,888.52 L633.62,888.55 L636.79,888.57 L639.97,888.59 L643.14,888.60 L646.32,888.61 L649.49,888.62 L652.66,888.63 L655.84,888.63 L659.01,888.64 L662.18,888.64 L665.36,888.64 L668.53,888.64 L671.71,888.65 L674.88,888.65 L678.05,888.65 L681.23,888.65 L684.40,888.65" fill="none" stroke-width="5.3" stroke-linejoin="round" stroke-linecap="butt"/>
<path d="M370.20,817.36 L373.37,817.95 L376.55,818.56 L379.72,819.20 L382.89,819.87 L386.07,820.57 L389.24,821.30 L392.42,822.05 L395.59,822.84 L398.76,823.67 L401.94,824.52 L405.11,825.42 L408.28,826.35 L411.46,827.32 L414.63,828.33 L417.81,829.39 L420.98,830.49 L424.15,831.63 L427.33,832.82 L430.50,834.07 L433.67,835.36 L436.85,836.71 L440.02,838.12 L443.20,839.58 L446.37,841.11 L449.54,842.70 L452.72,844.35 L455.89,846.07 L459.06,847.86 L462.24,849.72 L465.41,851.65 L468.59,853.66 L471.76,855.75 L474.93,857.92 L478.11,860.16 L481.28,862.49 L484.45,864.89 L487.63,867.38 L490.80,869.94 L493.98,872.57 L497.15,875.28 L500.32,878.05 L503.50,880.88 L506.67,883.76 L509.84,886.68 L513.02,889.62 L516.19,892.57 L519.37,895.51 L522.54,898.42 L525.71,901.29 L528.89,904.08 L532.06,906.78 L535.23,909.38 L538.41,911.84 L541.58,914.15 L544.76,916.31 L547.93,918.30 L551.10,920.13 L554.28,921.78 L557.45,923.26 L560.62,924.58 L563.80,925.74 L566.97,926.77 L570.15,927.66 L573.32,928.44 L576.49,929.11 L579.67,929.68 L582.84,930.18 L586.01,930.60 L589.19,930.96 L592.36,931.26 L595.54,931.52 L598.71,931.74 L601.88,931.92 L605.06,932.08 L608.23,932.21 L611.40,932.32 L614.58,932.41 L617.75,932.49 L620.93,932.55 L624.10,932.61 L627.27,932.66 L630.45,932.69 L633.62,932.73 L636.79,932.75 L639.97,932.78 L643.14,932.80 L646.32,932.81 L649.49,932.83 L652.66,932.84 L655.84,932.85 L659.01,932.85 L662.18,932.86 L665.36,932.87 L668.53,932.87 L671.71,932.87 L674.88,932.88 L678.05,932.88 L681.23,932.88 L684.40,932.88" fill="none" stroke-width="5.3" stroke-linejoin="round" stroke-linecap="butt"/>
<line x1="370.15" y1="793.70" x2="370.15" y2="820.00" stroke-width="3.0" stroke-linecap="butt"/>
<line x1="363.15" y1="793.70" x2="377.15" y2="793.70" stroke-width="3.2" stroke-linecap="round"/>
<line x1="363.15" y1="812.00" x2="377.15" y2="812.00" stroke-width="3.2" stroke-linecap="round"/>
<line x1="363.15" y1="820.00" x2="377.15" y2="820.00" stroke-width="3.2" stroke-linecap="round"/>
<line x1="479.85" y1="780.00" x2="479.85" y2="814.40" stroke-width="3.0" stroke-linecap="butt"/>
<line x1="472.85" y1="780.00" x2="486.85" y2="780.00" stroke-width="3.2" stroke-linecap="round"/>
<line x1="472.85" y1="814.40" x2="486.85" y2="814.40" stroke-width="3.2" stroke-linecap="round"/>
<line x1="479.85" y1="826.50" x2="479.85" y2="881.40" stroke-width="3.0" stroke-linecap="butt"/>
<line x1="472.85" y1="826.50" x2="486.85" y2="826.50" stroke-width="3.2" stroke-linecap="round"/>
<line x1="472.85" y1="881.40" x2="486.85" y2="881.40" stroke-width="3.2" stroke-linecap="round"/>
<line x1="527.10" y1="900.40" x2="527.10" y2="965.10" stroke-width="3.0" stroke-linecap="butt"/>
<line x1="520.10" y1="900.40" x2="534.10" y2="900.40" stroke-width="3.2" stroke-linecap="round"/>
<line x1="520.10" y1="965.10" x2="534.10" y2="965.10" stroke-width="3.2" stroke-linecap="round"/>
<line x1="574.35" y1="845.00" x2="574.35" y2="868.80" stroke-width="3.0" stroke-linecap="butt"/>
<line x1="567.35" y1="845.00" x2="581.35" y2="845.00" stroke-width="3.2" stroke-linecap="round"/>
<line x1="567.35" y1="868.80" x2="581.35" y2="868.80" stroke-width="3.2" stroke-linecap="round"/>
<line x1="589.56" y1="893.30" x2="589.56" y2="925.70" stroke-width="3.0" stroke-linecap="butt"/>
<line x1="582.56" y1="893.30" x2="596.56" y2="893.30" stroke-width="3.2" stroke-linecap="round"/>
<line x1="582.56" y1="925.70" x2="596.56" y2="925.70" stroke-width="3.2" stroke-linecap="round"/>
<line x1="684.05" y1="891.70" x2="684.05" y2="907.70" stroke-width="3.0" stroke-linecap="butt"/>
<line x1="677.05" y1="891.70" x2="691.05" y2="891.70" stroke-width="3.2" stroke-linecap="round"/>
<line x1="677.05" y1="907.70" x2="691.05" y2="907.70" stroke-width="3.2" stroke-linecap="round"/>
<line x1="684.05" y1="917.60" x2="684.05" y2="957.00" stroke-width="3.0" stroke-linecap="butt"/>
<line x1="677.05" y1="917.60" x2="691.05" y2="917.60" stroke-width="3.2" stroke-linecap="round"/>
<line x1="677.05" y1="957.00" x2="691.05" y2="957.00" stroke-width="3.2" stroke-linecap="round"/>
<circle cx="479.85" cy="796.90" r="7.00"/>
<circle cx="527.10" cy="870.00" r="7.00"/>
<circle cx="574.35" cy="857.00" r="7.00"/>
<circle cx="589.56" cy="879.00" r="7.00"/>
<circle cx="636.80" cy="877.80" r="7.00"/>
<circle cx="664.44" cy="897.50" r="7.00"/>
<circle cx="684.05" cy="899.20" r="7.00"/>
<rect x="362.85" y="795.20" width="14.60" height="14.60"/>
<rect x="472.55" y="846.50" width="14.60" height="14.60"/>
<rect x="519.80" y="925.40" width="14.60" height="14.60"/>
<rect x="582.26" y="902.10" width="14.60" height="14.60"/>
<rect x="676.75" y="929.60" width="14.60" height="14.60"/>
<g transform="translate(1064.95,657.55) scale(0.9837,1)"><text font-size="59.8" font-weight="normal" style="stroke:#000;stroke-width:1.118px;stroke-linejoin:round">D</text></g>
<line x1="1238.30" y1="672.25" x2="1238.30" y2="1143.00" stroke-width="5.4" stroke-linecap="butt"/>
<line x1="1224.20" y1="1129.00" x2="1238.30" y2="1129.00" stroke-width="5.4" stroke-linecap="butt"/>
<g transform="translate(1203.46,1141.50) scale(0.9600,1)"><text font-size="35.8" font-weight="bold">0</text></g>
<line x1="1224.20" y1="977.65" x2="1238.30" y2="977.65" stroke-width="5.4" stroke-linecap="butt"/>
<g transform="translate(1184.38,990.15) scale(0.9600,1)"><text font-size="35.8" font-weight="bold">50</text></g>
<line x1="1224.20" y1="826.30" x2="1238.30" y2="826.30" stroke-width="5.4" stroke-linecap="butt"/>
<g transform="translate(1165.30,838.80) scale(0.9600,1)"><text font-size="35.8" font-weight="bold" clip-path="url(#c25)">100</text></g>
<line x1="1224.20" y1="674.95" x2="1238.30" y2="674.95" stroke-width="5.4" stroke-linecap="butt"/>
<g transform="translate(1165.30,687.45) scale(0.9600,1)"><text font-size="35.8" font-weight="bold" clip-path="url(#c26)">150</text></g>
<line x1="1238.30" y1="1129.00" x2="1775.00" y2="1129.00" stroke-width="5.4" stroke-linecap="butt"/>
<g transform="translate(1203.79,1175.80) scale(1.0100,1)"><text font-size="35.8" font-weight="bold" clip-path="url(#c27)">0.01</text></g>
<line x1="1278.49" y1="1129.00" x2="1278.49" y2="1138.20" stroke-width="4.6" stroke-linecap="butt"/>
<line x1="1302.00" y1="1129.00" x2="1302.00" y2="1138.20" stroke-width="4.6" stroke-linecap="butt"/>
<line x1="1318.68" y1="1129.00" x2="1318.68" y2="1138.20" stroke-width="4.6" stroke-linecap="butt"/>
<line x1="1331.61" y1="1129.00" x2="1331.61" y2="1138.20" stroke-width="4.6" stroke-linecap="butt"/>
<line x1="1342.18" y1="1129.00" x2="1342.18" y2="1138.20" stroke-width="4.6" stroke-linecap="butt"/>
<line x1="1351.12" y1="1129.00" x2="1351.12" y2="1138.20" stroke-width="4.6" stroke-linecap="butt"/>
<line x1="1358.86" y1="1129.00" x2="1358.86" y2="1138.20" stroke-width="4.6" stroke-linecap="butt"/>
<line x1="1365.69" y1="1129.00" x2="1365.69" y2="1138.20" stroke-width="4.6" stroke-linecap="butt"/>
<line x1="1371.80" y1="1129.00" x2="1371.80" y2="1143.00" stroke-width="5.13" stroke-linecap="butt"/>
<g transform="translate(1347.31,1175.80) scale(1.0200,1)"><text font-size="35.8" font-weight="bold" clip-path="url(#c28)">0.1</text></g>
<line x1="1411.99" y1="1129.00" x2="1411.99" y2="1138.20" stroke-width="4.6" stroke-linecap="butt"/>
<line x1="1435.50" y1="1129.00" x2="1435.50" y2="1138.20" stroke-width="4.6" stroke-linecap="butt"/>
<line x1="1452.18" y1="1129.00" x2="1452.18" y2="1138.20" stroke-width="4.6" stroke-linecap="butt"/>
<line x1="1465.11" y1="1129.00" x2="1465.11" y2="1138.20" stroke-width="4.6" stroke-linecap="butt"/>
<line x1="1475.68" y1="1129.00" x2="1475.68" y2="1138.20" stroke-width="4.6" stroke-linecap="butt"/>
<line x1="1484.62" y1="1129.00" x2="1484.62" y2="1138.20" stroke-width="4.6" stroke-linecap="butt"/>
<line x1="1492.36" y1="1129.00" x2="1492.36" y2="1138.20" stroke-width="4.6" stroke-linecap="butt"/>
<line x1="1499.19" y1="1129.00" x2="1499.19" y2="1138.20" stroke-width="4.6" stroke-linecap="butt"/>
<line x1="1505.30" y1="1129.00" x2="1505.30" y2="1143.00" stroke-width="5.13" stroke-linecap="butt"/>
<g transform="translate(1495.79,1175.80) scale(1.0800,1)"><text font-size="35.8" font-weight="bold" clip-path="url(#c29)">1</text></g>
<line x1="1545.49" y1="1129.00" x2="1545.49" y2="1138.20" stroke-width="4.6" stroke-linecap="butt"/>
<line x1="1569.00" y1="1129.00" x2="1569.00" y2="1138.20" stroke-width="4.6" stroke-linecap="butt"/>
<line x1="1585.68" y1="1129.00" x2="1585.68" y2="1138.20" stroke-width="4.6" stroke-linecap="butt"/>
<line x1="1598.61" y1="1129.00" x2="1598.61" y2="1138.20" stroke-width="4.6" stroke-linecap="butt"/>
<line x1="1609.18" y1="1129.00" x2="1609.18" y2="1138.20" stroke-width="4.6" stroke-linecap="butt"/>
<line x1="1618.12" y1="1129.00" x2="1618.12" y2="1138.20" stroke-width="4.6" stroke-linecap="butt"/>
<line x1="1625.86" y1="1129.00" x2="1625.86" y2="1138.20" stroke-width="4.6" stroke-linecap="butt"/>
<line x1="1632.69" y1="1129.00" x2="1632.69" y2="1138.20" stroke-width="4.6" stroke-linecap="butt"/>
<line x1="1638.80" y1="1129.00" x2="1638.80" y2="1143.00" stroke-width="5.13" stroke-linecap="butt"/>
<g transform="translate(1618.63,1175.80) scale(0.9900,1)"><text font-size="35.8" font-weight="bold" clip-path="url(#c30)">10</text></g>
<line x1="1678.99" y1="1129.00" x2="1678.99" y2="1138.20" stroke-width="4.6" stroke-linecap="butt"/>
<line x1="1702.50" y1="1129.00" x2="1702.50" y2="1138.20" stroke-width="4.6" stroke-linecap="butt"/>
<line x1="1719.18" y1="1129.00" x2="1719.18" y2="1138.20" stroke-width="4.6" stroke-linecap="butt"/>
<line x1="1732.11" y1="1129.00" x2="1732.11" y2="1138.20" stroke-width="4.6" stroke-linecap="butt"/>
<line x1="1742.68" y1="1129.00" x2="1742.68" y2="1138.20" stroke-width="4.6" stroke-linecap="butt"/>
<line x1="1751.62" y1="1129.00" x2="1751.62" y2="1138.20" stroke-width="4.6" stroke-linecap="butt"/>
<line x1="1759.36" y1="1129.00" x2="1759.36" y2="1138.20" stroke-width="4.6" stroke-linecap="butt"/>
<line x1="1766.19" y1="1129.00" x2="1766.19" y2="1138.20" stroke-width="4.6" stroke-linecap="butt"/>
<line x1="1772.30" y1="1129.00" x2="1772.30" y2="1143.00" stroke-width="5.13" stroke-linecap="butt"/>
<g transform="translate(1743.08,1175.80) scale(0.9640,1)"><text font-size="35.8" font-weight="bold" clip-path="url(#c31)">100</text></g>
<g transform="translate(1386.16,1228.70) scale(0.9575,1)"><text font-size="36.4" font-weight="bold">Abn-CBD (uM)</text></g>
<text transform="translate(1137.20,1022.17) rotate(-90) scale(0.9933,1)" font-size="34.8" font-weight="bold">cell viability (%)</text>
<line x1="1264.10" y1="687.60" x2="1301.10" y2="687.60" stroke-width="5" stroke-linecap="round"/>
<circle cx="1282.60" cy="687.60" r="7.20"/>
<g transform="translate(1322.83,699.60) scale(0.9632,1)"><text font-size="35.5" font-weight="normal" clip-path="url(#c32)">MDA-MB-231 PR cells (-Paclitaxel)</text></g>
<line x1="1264.10" y1="729.10" x2="1301.10" y2="729.10" stroke-width="5" stroke-linecap="round"/>
<rect x="1275.35" y="721.85" width="14.50" height="14.50"/>
<g transform="translate(1322.83,741.70) scale(0.9631,1)"><text font-size="35.5" font-weight="normal" clip-path="url(#c33)">MDA-MB-231 PR cells (+Paclitaxel)</text></g>
<path d="M1371.50,821.72 L1374.20,821.86 L1376.89,822.01 L1379.59,822.17 L1382.29,822.33 L1384.98,822.51 L1387.68,822.69 L1390.38,822.88 L1393.08,823.07 L1395.77,823.28 L1398.47,823.50 L1401.17,823.73 L1403.86,823.96 L1406.56,824.21 L1409.26,824.48 L1411.95,824.75 L1414.65,825.04 L1417.35,825.34 L1420.05,825.65 L1422.74,825.98 L1425.44,826.33 L1428.14,826.69 L1430.83,827.07 L1433.53,827.47 L1436.23,827.89 L1438.92,828.32 L1441.62,828.78 L1444.32,829.26 L1447.02,829.76 L1449.71,830.28 L1452.41,830.83 L1455.11,831.41 L1457.80,832.01 L1460.50,832.65 L1463.20,833.31 L1465.89,834.00 L1468.59,834.73 L1471.29,835.49 L1473.98,836.29 L1476.68,837.12 L1479.38,837.99 L1482.08,838.91 L1484.77,839.87 L1487.47,840.87 L1490.17,841.92 L1492.86,843.03 L1495.56,844.18 L1498.26,845.39 L1500.95,846.65 L1503.65,847.97 L1506.35,849.36 L1509.05,850.81 L1511.74,852.33 L1514.44,853.92 L1517.14,855.58 L1519.83,857.32 L1522.53,859.14 L1525.23,861.05 L1527.92,863.04 L1530.62,865.12 L1533.32,867.31 L1536.02,869.59 L1538.71,871.97 L1541.41,874.46 L1544.11,877.07 L1546.80,879.79 L1549.50,882.64 L1552.20,885.61 L1554.89,888.71 L1557.59,891.95 L1560.29,895.33 L1562.98,898.85 L1565.68,902.53 L1568.38,906.36 L1571.08,910.35 L1573.77,914.51 L1576.47,918.84 L1579.17,923.34 L1581.86,928.02 L1584.56,932.88 L1587.26,937.92 L1589.95,943.16 L1592.65,948.58 L1595.35,954.19 L1598.05,960.00 L1600.74,966.00 L1603.44,972.19 L1606.14,978.58 L1608.83,985.15 L1611.53,991.90 L1614.23,998.83 L1616.92,1005.93 L1619.62,1013.20 L1622.32,1020.62 L1625.02,1028.18 L1627.71,1035.87 L1630.41,1043.68 L1633.11,1051.58 L1635.80,1059.57 L1638.50,1067.62" fill="none" stroke-width="5.3" stroke-linejoin="round" stroke-linecap="butt"/>
<path d="M1371.50,827.74 L1374.20,827.90 L1376.89,828.07 L1379.59,828.25 L1382.29,828.44 L1384.98,828.64 L1387.68,828.84 L1390.38,829.05 L1393.08,829.28 L1395.77,829.51 L1398.47,829.76 L1401.17,830.01 L1403.86,830.28 L1406.56,830.56 L1409.26,830.85 L1411.95,831.15 L1414.65,831.47 L1417.35,831.80 L1420.05,832.15 L1422.74,832.51 L1425.44,832.89 L1428.14,833.28 L1430.83,833.70 L1433.53,834.13 L1436.23,834.58 L1438.92,835.05 L1441.62,835.55 L1444.32,836.06 L1447.02,836.60 L1449.71,837.16 L1452.41,837.75 L1455.11,838.36 L1457.80,839.00 L1460.50,839.67 L1463.20,840.37 L1465.89,841.10 L1468.59,841.87 L1471.29,842.66 L1473.98,843.50 L1476.68,844.37 L1479.38,845.28 L1482.08,846.23 L1484.77,847.22 L1487.47,848.26 L1490.17,849.35 L1492.86,850.48 L1495.56,851.66 L1498.26,852.90 L1500.95,854.19 L1503.65,855.54 L1506.35,856.95 L1509.05,858.42 L1511.74,859.96 L1514.44,861.56 L1517.14,863.24 L1519.83,864.99 L1522.53,866.82 L1525.23,868.73 L1527.92,870.73 L1530.62,872.81 L1533.32,874.98 L1536.02,877.25 L1538.71,879.62 L1541.41,882.09 L1544.11,884.67 L1546.80,887.36 L1549.50,890.17 L1552.20,893.10 L1554.89,896.15 L1557.59,899.33 L1560.29,902.65 L1562.98,906.11 L1565.68,909.71 L1568.38,913.46 L1571.08,917.37 L1573.77,921.43 L1576.47,925.65 L1579.17,930.05 L1581.86,934.61 L1584.56,939.35 L1587.26,944.27 L1589.95,949.36 L1592.65,954.65 L1595.35,960.11 L1598.05,965.77 L1600.74,971.61 L1603.44,977.63 L1606.14,983.84 L1608.83,990.23 L1611.53,996.80 L1614.23,1003.53 L1616.92,1010.42 L1619.62,1017.47 L1622.32,1024.65 L1625.02,1031.96 L1627.71,1039.37 L1630.41,1046.88 L1633.11,1054.46 L1635.80,1062.09 L1638.50,1069.74" fill="none" stroke-width="5.3" stroke-linejoin="round" stroke-linecap="butt"/>
<line x1="1371.80" y1="814.00" x2="1371.80" y2="843.70" stroke-width="3.0" stroke-linecap="butt"/>
<line x1="1364.90" y1="814.00" x2="1378.70" y2="814.00" stroke-width="3.2" stroke-linecap="round"/>
<line x1="1364.90" y1="829.00" x2="1378.70" y2="829.00" stroke-width="3.2" stroke-linecap="round"/>
<line x1="1364.90" y1="843.70" x2="1378.70" y2="843.70" stroke-width="3.2" stroke-linecap="round"/>
<line x1="1465.11" y1="817.90" x2="1465.11" y2="824.60" stroke-width="3.0" stroke-linecap="butt"/>
<line x1="1458.21" y1="817.90" x2="1472.01" y2="817.90" stroke-width="3.2" stroke-linecap="round"/>
<line x1="1505.30" y1="836.60" x2="1505.30" y2="878.20" stroke-width="3.0" stroke-linecap="butt"/>
<line x1="1498.40" y1="836.60" x2="1512.20" y2="836.60" stroke-width="3.2" stroke-linecap="round"/>
<line x1="1498.40" y1="878.20" x2="1512.20" y2="878.20" stroke-width="3.2" stroke-linecap="round"/>
<line x1="1558.42" y1="831.90" x2="1558.42" y2="964.50" stroke-width="3.0" stroke-linecap="butt"/>
<line x1="1551.52" y1="831.90" x2="1565.32" y2="831.90" stroke-width="3.2" stroke-linecap="round"/>
<line x1="1551.52" y1="871.90" x2="1565.32" y2="871.90" stroke-width="3.2" stroke-linecap="round"/>
<line x1="1551.52" y1="964.50" x2="1565.32" y2="964.50" stroke-width="3.2" stroke-linecap="round"/>
<line x1="1598.61" y1="926.90" x2="1598.61" y2="979.50" stroke-width="3.0" stroke-linecap="butt"/>
<line x1="1591.71" y1="926.90" x2="1605.51" y2="926.90" stroke-width="3.2" stroke-linecap="round"/>
<line x1="1638.80" y1="1056.50" x2="1638.80" y2="1096.20" stroke-width="3.0" stroke-linecap="butt"/>
<line x1="1631.90" y1="1056.50" x2="1645.70" y2="1056.50" stroke-width="3.2" stroke-linecap="round"/>
<line x1="1631.90" y1="1069.90" x2="1645.70" y2="1069.90" stroke-width="3.2" stroke-linecap="round"/>
<line x1="1631.90" y1="1096.20" x2="1645.70" y2="1096.20" stroke-width="3.2" stroke-linecap="round"/>
<circle cx="1371.80" cy="836.30" r="7.00"/>
<circle cx="1505.30" cy="857.00" r="7.00"/>
<circle cx="1558.42" cy="917.90" r="7.00"/>
<circle cx="1598.61" cy="935.30" r="7.00"/>
<circle cx="1638.80" cy="1079.00" r="7.00"/>
<rect x="1364.80" y="816.50" width="14.00" height="14.00"/>
<rect x="1458.11" y="817.60" width="14.00" height="14.00"/>
<rect x="1498.30" y="836.50" width="14.00" height="14.00"/>
<rect x="1551.42" y="876.50" width="14.00" height="14.00"/>
<rect x="1591.61" y="972.50" width="14.00" height="14.00"/>
<rect x="1631.80" y="1073.00" width="14.00" height="14.00"/>
</g>
</svg>
</body></html>
